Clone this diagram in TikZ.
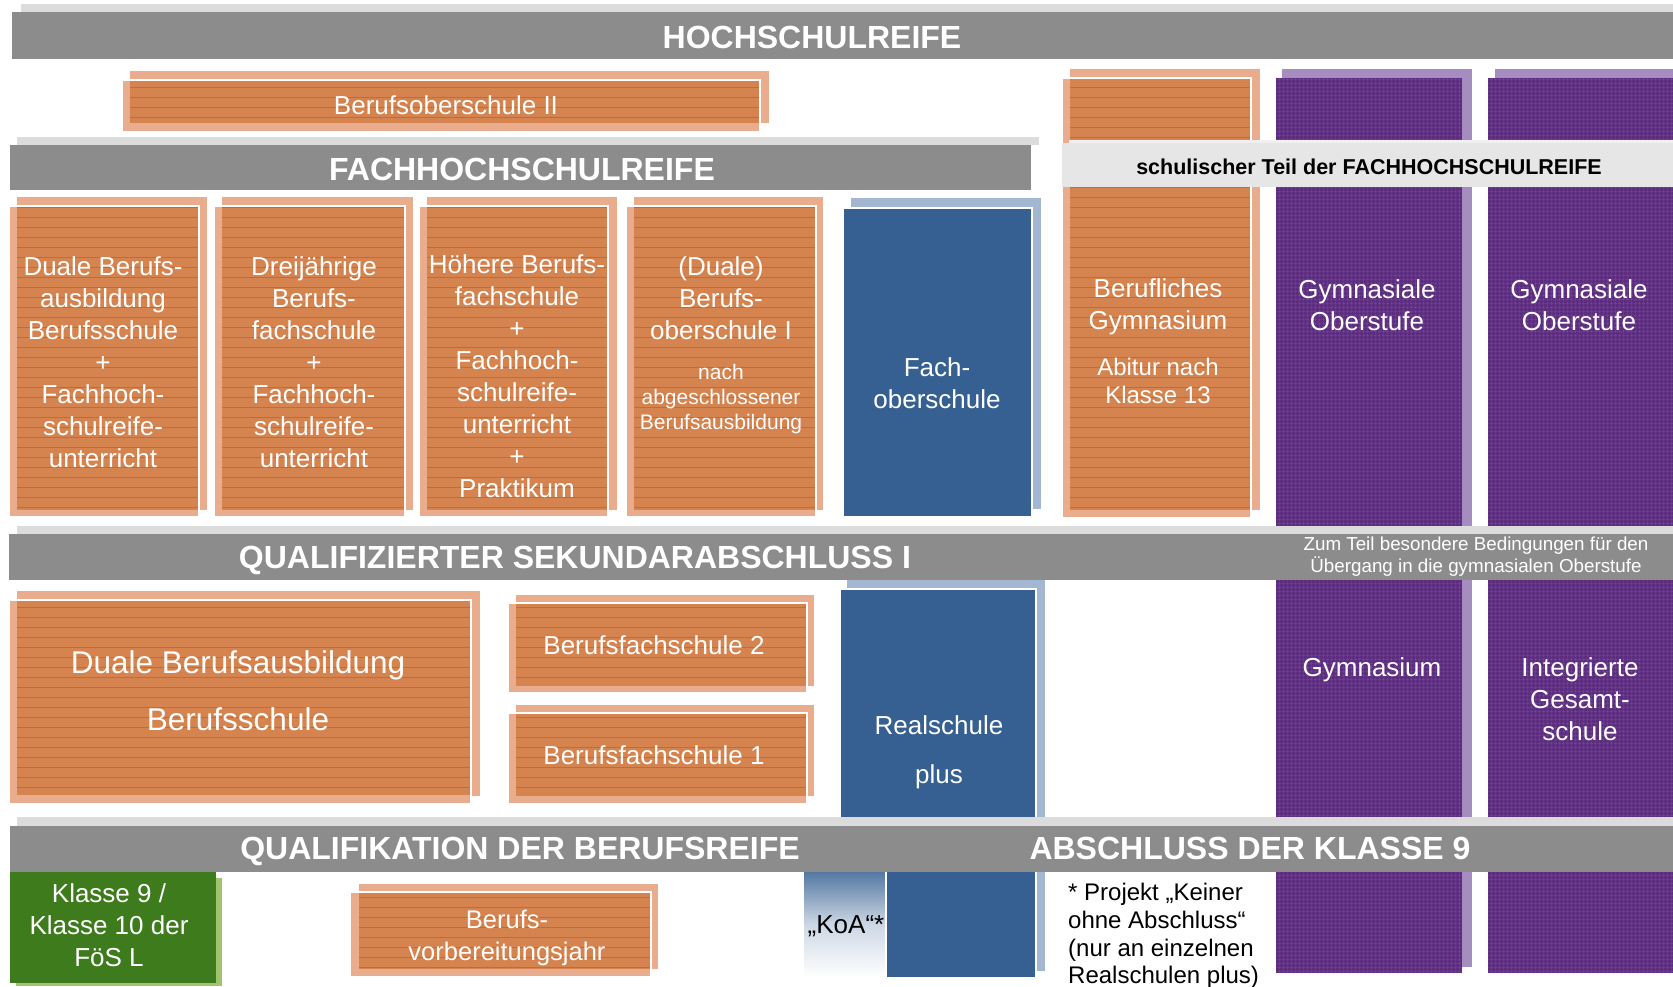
\documentclass[tikz,border=0pt]{standalone}
\usepackage{fontspec}
\setmainfont{Liberation Sans}
\usetikzlibrary{patterns.meta}

\definecolor{bandgray}{HTML}{8C8C8C}
\definecolor{bandlight}{HTML}{DCDCDC}
\definecolor{schgray}{HTML}{E6E6E6}
\definecolor{schlight}{HTML}{F0F0F0}
\definecolor{odark}{HTML}{D5834F}
\definecolor{ostripe}{HTML}{C96833}
\definecolor{olightc}{HTML}{E9AD8D}
\definecolor{rsblue}{HTML}{366092}
\definecolor{blightc}{HTML}{A3B7D3}
\definecolor{purp}{HTML}{5D2D80}
\definecolor{purpgrid}{HTML}{71488F}
\definecolor{purplight}{HTML}{A58DBF}
\definecolor{gdark}{HTML}{3E7B1D}
\definecolor{glight}{HTML}{A0C56E}

\tikzset{
  band/.style={fill=bandgray},
  bandshade/.style={fill=bandlight},
  bandtext/.style={text=white,inner sep=0pt,anchor=base,font=\bfseries\fontsize{32}{38}\selectfont},
  obox/.style={fill=odark,inner sep=0pt,
    postaction={pattern={Lines[angle=0,distance=10pt,line width=0.8pt]},pattern color=ostripe}},
  olight/.style={fill=olightc},
  rim/.style={draw=white,line width=1.5pt},
  bbox/.style={fill=rsblue,inner sep=0pt},
  blight/.style={fill=blightc},
  pbox/.style={fill=purp,inner sep=0pt,
    postaction={pattern={Hatch[angle=0,distance=4pt,line width=0.6pt]},pattern color=purpgrid}},
  plight/.style={fill=purplight},
  txt/.style={text=white,align=center,inner sep=0pt,font=\fontsize{26}{32}\selectfont},
}

\begin{document}
\begin{tikzpicture}[x=1pt,y=-1pt]
    \useasboundingbox (0,0) rectangle (1673,987);
    \fill[white] (0,0) rectangle (1673,987);

    % purple columns
    \fill[plight] (1282,69) rectangle (1472,967);
    \node[pbox, minimum width=186, minimum height=895] (gym1) at (1369,525.5) {};
    \fill[plight] (1495,69) rectangle (1673,967);
    \node[pbox, minimum width=185, minimum height=895] (gym2) at (1580.5,525.5) {};

    % berufliches gymnasium
    \fill[olight] (1070,69) rectangle (1260,510);
    \fill[olight] (1063,78) rectangle (1250,517);
    \node[obox, minimum width=180, minimum height=432] (bgym) at (1160,294) {};
    \draw[rim] (1063,78) -- (1251,78) -- (1251,517);

    % berufsoberschule II
    \fill[olight] (130,71) rectangle (769,123);
    \fill[olight] (123,80) rectangle (760,131);
    \node[obox, minimum width=629, minimum height=43] (bos2) at (444.5,101.5) {};
    \draw[rim] (123,80) -- (760,80) -- (760,131);

    % row below FACHHOCHSCHULREIFE
    \fill[olight] (17,197) rectangle (207,510);
    \fill[olight] (10,206) rectangle (198,516);
    \node[obox, minimum width=181, minimum height=304] (dba) at (107.5,358) {};
    \draw[rim] (10,206) -- (199,206) -- (199,516);

    \fill[olight] (222,197) rectangle (413,510);
    \fill[olight] (215,206) rectangle (404,516);
    \node[obox, minimum width=182, minimum height=304] (bfs3) at (313,358) {};
    \draw[rim] (215,206) -- (405,206) -- (405,516);

    \fill[olight] (427,197) rectangle (617,510);
    \fill[olight] (420,206) rectangle (607,516);
    \node[obox, minimum width=180, minimum height=304] (hbf) at (517,358) {};
    \draw[rim] (420,206) -- (608,206) -- (608,516);

    \fill[olight] (634,197) rectangle (823,510);
    \fill[olight] (627,206) rectangle (815,516);
    \node[obox, minimum width=181, minimum height=304] (bos1) at (724.5,358) {};
    \draw[rim] (627,206) -- (816,206) -- (816,516);

    \fill[blight] (851,198) rectangle (1041,509);
    \node[bbox, minimum width=187, minimum height=308] (fos) at (937.5,362) {};
    \draw[rim] (844,208) -- (1032,208) -- (1032,516);

    % row below SEKUNDARABSCHLUSS
    \fill[olight] (17,591) rectangle (480,796);
    \fill[olight] (10,600) rectangle (470,803);
    \node[obox, minimum width=453, minimum height=195] (dbs) at (243.5,697.5) {};
    \draw[rim] (10,600) -- (471,600) -- (471,803);

    \fill[olight] (516,595) rectangle (814,686);
    \fill[olight] (509,603) rectangle (806,692);
    \node[obox, minimum width=290, minimum height=83] (bfs2) at (661,644.5) {};
    \draw[rim] (509,603) -- (807,603) -- (807,692);

    \fill[olight] (516,705) rectangle (814,796);
    \fill[olight] (509,713) rectangle (806,803);
    \node[obox, minimum width=290, minimum height=83] (bfs1) at (661,754.5) {};
    \draw[rim] (509,713) -- (807,713) -- (807,803);

    \fill[blight] (847,580) rectangle (1045,971);
    \node[bbox, minimum width=194, minimum height=388] (rsp) at (938,783) {};
    \draw[rim] (841,589) -- (1036,589) -- (1036,977);

    % bottom row
    \node[inner sep=0pt, minimum width=82, minimum height=105, top color=rsblue!85!white,
      bottom color=white, middle color=rsblue!25!white] (koa) at (845,924.5) {};
    \draw[rim] (koa.north east) -- (koa.south east);

    \fill[glight] (16,878) rectangle (222,986);
    \node[fill=gdark, inner sep=0pt, minimum width=206, minimum height=111] (k9) at (113,927.5) {};

    \fill[olight] (359,884) rectangle (658,969);
    \fill[olight] (351,892) rectangle (650,976);
    \node[obox, minimum width=291, minimum height=77] (bvj) at (504.5,930.5) {};
    \draw[rim] (351,892) -- (651,892) -- (651,976);

    % bands
    \fill[bandshade] (21,4) rectangle (1673,12);
    \node[band, inner sep=0pt, minimum width=1661, minimum height=47] (hoch) at (842.5,35.5) {};
    \fill[bandshade] (17,137) rectangle (1039,145);
    \node[band, inner sep=0pt, minimum width=1021, minimum height=45] (fhr) at (520.5,167.5) {};
    \fill[schlight] (1069,140) rectangle (1673,143);
    \node[fill=schgray, inner sep=0pt, minimum width=611, minimum height=44] (sch) at (1367.5,165) {};
    \fill[bandshade] (17,526) rectangle (1673,534);
    \node[band, inner sep=0pt, minimum width=1664, minimum height=46] (qsa) at (841,557) {};
    \fill[bandshade] (17,817) rectangle (1673,826);
    \node[band, inner sep=0pt, minimum width=1663, minimum height=46] (qbr) at (841.5,849) {};

    % texts
    \node[bandtext] (thoch) at (812,48.7) {HOCHSCHULREIFE};
    \node[bandtext] (tfhr) at (522,180.7) {FACHHOCHSCHULREIFE};
    \node[inner sep=0pt, font=\bfseries\fontsize{21.5}{24}\selectfont] (tsch) at (1369,167) {schulischer Teil der FACHHOCHSCHULREIFE};
    \node[bandtext] (tqsa) at (575,568.7) {QUALIFIZIERTER SEKUNDARABSCHLUSS I};
    \node[txt, font=\fontsize{18.8}{22}\selectfont] (tzum) at (1476,557) {Zum Teil besondere Bedingungen für den\\Übergang in die gymnasialen Oberstufe};
    \node[bandtext] (tqbr) at (520,859.5) {QUALIFIKATION DER BERUFSREIFE};
    \node[bandtext] (tak9) at (1250,859.5) {ABSCHLUSS DER KLASSE 9};

    \node[txt] (tbos2) at (446,105) {Berufsoberschule II};
    \node[txt] (tdba) at (103,362) {Duale Berufs-\\ausbildung\\Berufsschule\\+\\Fachhoch-\\schulreife-\\unterricht};
    \node[txt] (tbfs3) at (314,362) {Dreijährige\\Berufs-\\fachschule\\+\\Fachhoch-\\schulreife-\\unterricht};
    \node[txt] (thbf) at (517,376) {Höhere Berufs-\\fachschule\\+\\Fachhoch-\\schulreife-\\unterricht\\+\\Praktikum};
    \node[txt] (tbos1) at (721,298) {(Duale)\\Berufs-\\oberschule I};
    \node[txt, font=\fontsize{21}{25}\selectfont] (tnach) at (721,399) {nach\\abgeschlossener\\Berufsausbildung};
    \node[txt] (tfos) at (937,383) {Fach-\\oberschule};
    \node[txt] (tbgym) at (1158,307) {Berufliches\\Gymnasium};
    \node[txt, font=\fontsize{24}{28}\selectfont] (tabi) at (1158,381) {Abitur nach\\Klasse 13};
    \node[txt] (tgo1) at (1367,305) {Gymnasiale\\Oberstufe};
    \node[txt] (tgo2) at (1579,305) {Gymnasiale\\Oberstufe};

    \node[txt, font=\fontsize{31.5}{57}\selectfont] (tdbs) at (238,691) {Duale Berufsausbildung\\Berufsschule};
    \node[txt] (tbfs2) at (654,645) {Berufsfachschule 2};
    \node[txt] (tbfs1) at (654,755) {Berufsfachschule 1};
    \node[txt, font=\fontsize{26}{49}\selectfont] (trsp) at (939,752) {Realschule\\plus};
    \node[txt] (tgym) at (1372,670) {Gymnasium};
    \node[txt] (tigs) at (1580,699) {Integrierte\\Gesamt-\\schule};

    \node[txt, font=\fontsize{26}{32}\selectfont] (tk9) at (109,925) {Klasse 9 /\\Klasse 10 der\\FöS L};
    \node[txt, font=\fontsize{25.5}{32}\selectfont] (tbvj) at (507,938) {Berufs-\\vorbereitungsjahr};
    \node[inner sep=0pt, font=\fontsize{26}{30}\selectfont] (tkoa) at (846,926) {„KoA“*};
    \node[inner sep=0pt, anchor=west, align=left, font=\fontsize{24}{27.7}\selectfont] (tfoot) at (1068,936)
      {* Projekt „Keiner\\ohne Abschluss“\\(nur an einzelnen\\Realschulen plus)};
\end{tikzpicture}
\end{document}
